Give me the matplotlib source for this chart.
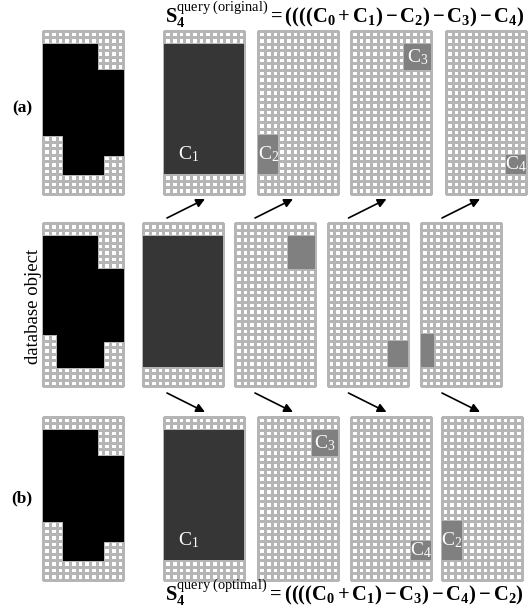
import numpy as np
import matplotlib.pyplot as plt
from matplotlib.colors import ListedColormap
from matplotlib.patches import Rectangle

plt.rcParams['font.family'] = 'Liberation Serif'
plt.rcParams['mathtext.fontset'] = 'custom'
plt.rcParams['mathtext.rm'] = 'Liberation Serif'
plt.rcParams['mathtext.it'] = 'Liberation Serif:italic'
plt.rcParams['mathtext.bf'] = 'Liberation Serif:bold'
plt.rcParams['mathtext.default'] = 'bf'

# grid size in cells
n_rows = 25
n_cols = 12

# regions as (row start, row end, col start, col end)
c1 = (2, 22, 0, 12)
c2 = (16, 22, 0, 3)
c3 = (2, 6, 8, 12)
c4 = (19, 22, 9, 12)

# the database object in the middle row has its own cut-outs
m1 = (2, 22, 0, 12)
m2 = (2, 7, 8, 12)
m3 = (18, 22, 9, 12)
m4 = (17, 22, 0, 2)

regions = {'C1': c1, 'C2': c2, 'C3': c3, 'C4': c4}
order_a = ['C1', 'C2', 'C3', 'C4']
order_b = ['C1', 'C3', 'C4', 'C2']
order_mid = [m1, m2, m3, m4]

title_a = r'$S_4^{\mathrm{query\ (original)}} = ((((C_0 + C_1) - C_2) - C_3) - C_4)$'
title_b = r'$S_4^{\mathrm{query\ (optimal)}} = ((((C_0 + C_1) - C_3) - C_4) - C_2)$'

# layout (pixels)
grid_w = 80
grid_h = 163
cell_w = grid_w / n_cols
cell_h = grid_h / n_rows
top_a, top_m, top_b = 30.7, 223.3, 416.7
left_a = [43.3, 164.3, 258.3, 351, 446]
left_m = [43.3, 143.3, 235, 327.7, 421]
left_b = [43.3, 164.3, 258.3, 351, 441.7]
arrow_x = [167, 255, 348.5, 442]

grid_col = '#b5b5b5'
dark = '#363636'
mid = '#808080'

fig = plt.figure(figsize=(5.32, 6.08), dpi=100)
ax = fig.add_axes([0, 0, 1, 1])


def draw_grid(x0, y0):
    xs = x0 + np.arange(n_cols + 1) * cell_w
    ys = y0 + np.arange(n_rows + 1) * cell_h
    ax.pcolormesh(xs, ys, np.zeros((n_rows, n_cols)), cmap=ListedColormap(['white']),
                  edgecolors=grid_col, linewidth=0.75, zorder=1)


def draw_region(x0, y0, reg, color):
    r0, r1, k0, k1 = reg
    ax.add_patch(Rectangle((x0 + k0 * cell_w, y0 + r0 * cell_h), (k1 - k0) * cell_w,
                           (r1 - r0) * cell_h, facecolor=color, edgecolor='none', zorder=3))


def draw_object(x0, y0, base, cuts):
    mask = np.zeros((n_rows, n_cols), dtype=bool)
    r0, r1, k0, k1 = base
    mask[r0:r1, k0:k1] = True
    for r0, r1, k0, k1 in cuts:
        mask[r0:r1, k0:k1] = False
    xs = x0 + np.arange(n_cols + 1) * cell_w
    ys = y0 + np.arange(n_rows + 1) * cell_h
    ax.pcolormesh(xs, ys, np.ma.masked_where(~mask, np.ones(mask.shape)),
                  cmap=ListedColormap(['black']), edgecolors='face', linewidth=0.5, zorder=3)


def label(x0, y0, name, cx=None, cy=None):
    r0, r1, k0, k1 = regions[name]
    if cx is None:
        cx = (k0 + k1) / 2
        cy = (r0 + r1) / 2
    ax.text(x0 + cx * cell_w, y0 + cy * cell_h, r'$\mathrm{C}_\mathrm{%s}$' % name[1],
            color='white', fontsize=14, ha='center', va='center', zorder=5)


def draw_query_row(lefts, top, order):
    draw_grid(lefts[0], top)
    draw_object(lefts[0], top, regions['C1'], [regions[n] for n in order[1:]])
    for i, name in enumerate(order):
        x0 = lefts[i + 1]
        draw_grid(x0, top)
        draw_region(x0, top, regions[name], dark if name == 'C1' else mid)
        if name == 'C1':
            label(x0, top, name, 3.6, 18.9)
        else:
            label(x0, top, name)


draw_query_row(left_a, top_a, order_a)
draw_query_row(left_b, top_b, order_b)

# middle row: database object and its decomposition
draw_grid(left_m[0], top_m)
draw_object(left_m[0], top_m, order_mid[0], order_mid[1:])
for i, reg in enumerate(order_mid):
    draw_grid(left_m[i + 1], top_m)
    draw_region(left_m[i + 1], top_m, reg, dark if i == 0 else mid)

# arrows up to (a) and down to (b)
for x in arrow_x:
    ax.annotate('', xy=(x + 38, 199), xytext=(x, 218),
                arrowprops=dict(arrowstyle='-|>', color='black', lw=1.2,
                                mutation_scale=13, shrinkA=0, shrinkB=0))
    ax.annotate('', xy=(x + 38, 412), xytext=(x, 393),
                arrowprops=dict(arrowstyle='-|>', color='black', lw=1.2,
                                mutation_scale=13, shrinkA=0, shrinkB=0))

ax.text(165, 15, title_a, fontsize=14.8, ha='left', va='center')
ax.text(165, 593, title_b, fontsize=14.8, ha='left', va='center')
ax.text(22, 108, '(a)', fontsize=12.5, fontweight='bold', ha='center', va='center')
ax.text(22, 498, '(b)', fontsize=12.5, fontweight='bold', ha='center', va='center')
ax.text(33, 306, 'database object', fontsize=13.5, rotation=90, ha='center', va='center')

ax.set_xlim(0, 532)
ax.set_ylim(608, 0)
ax.axis('off')

fig.savefig('out.png', dpi=100)
